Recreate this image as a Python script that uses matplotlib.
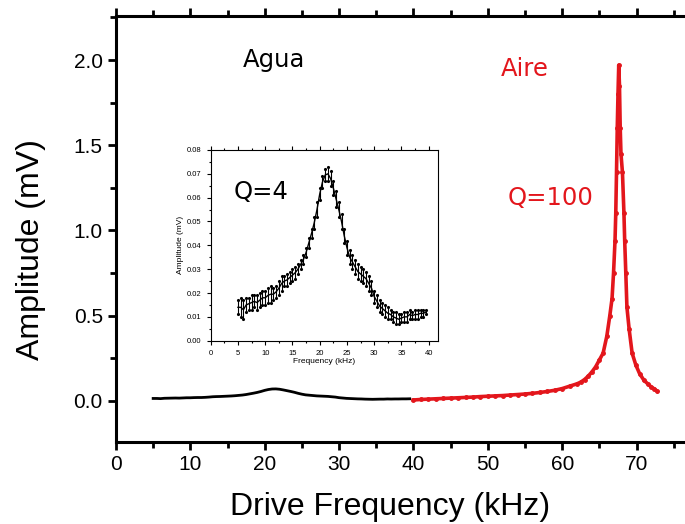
import matplotlib
matplotlib.use("Agg")
import matplotlib.pyplot as plt
import matplotlib.ticker as mticker
import numpy as np

# --- data ---
# water (Agua), low and high edge of the noisy band, kHz / mV
agua_freq = [5.0, 5.5, 6.0, 6.5, 7.0, 7.5, 8.0, 8.5, 9.0, 9.5,
             10.0, 10.5, 11.0, 11.5, 12.0, 12.5, 13.0, 13.5, 14.0, 14.5,
             15.0, 15.5, 16.0, 16.5, 17.0, 17.5, 18.0, 18.5, 19.0, 19.5,
             20.0, 20.5, 21.0, 21.5, 22.0, 22.5, 23.0, 23.5, 24.0, 24.5,
             25.0, 25.5, 26.0, 26.5, 27.0, 27.5, 28.0, 28.5, 29.0, 29.5,
             30.0, 30.5, 31.0, 31.5, 32.0, 32.5, 33.0, 33.5, 34.0, 34.5,
             35.0, 35.5, 36.0, 36.5, 37.0, 37.5, 38.0, 38.5, 39.0, 39.5]
agua_lo = [0.011, 0.010, 0.009, 0.012, 0.013, 0.013, 0.014, 0.013, 0.014, 0.015,
           0.015, 0.016, 0.016, 0.017, 0.018, 0.019, 0.021, 0.023, 0.023, 0.024,
           0.025, 0.026, 0.028, 0.030, 0.032, 0.035, 0.039, 0.043, 0.047, 0.052,
           0.059, 0.064, 0.067, 0.067, 0.065, 0.061, 0.056, 0.052, 0.047, 0.041,
           0.036, 0.032, 0.030, 0.028, 0.026, 0.025, 0.024, 0.023, 0.021, 0.019,
           0.016, 0.014, 0.012, 0.011, 0.010, 0.009, 0.009, 0.008, 0.007, 0.007,
           0.008, 0.008, 0.008, 0.009, 0.009, 0.009, 0.009, 0.010, 0.010, 0.011]
agua_hi = [0.017, 0.018, 0.017, 0.018, 0.018, 0.019, 0.019, 0.019, 0.020, 0.021,
           0.021, 0.022, 0.023, 0.022, 0.023, 0.025, 0.027, 0.027, 0.028, 0.029,
           0.030, 0.031, 0.032, 0.034, 0.036, 0.039, 0.043, 0.047, 0.052, 0.058,
           0.064, 0.069, 0.072, 0.073, 0.071, 0.067, 0.063, 0.058, 0.053, 0.047,
           0.042, 0.038, 0.036, 0.034, 0.032, 0.031, 0.030, 0.029, 0.027, 0.025,
           0.021, 0.019, 0.017, 0.016, 0.015, 0.014, 0.013, 0.012, 0.012, 0.011,
           0.011, 0.012, 0.012, 0.013, 0.012, 0.013, 0.013, 0.013, 0.013, 0.013]

# air (Aire), kHz / mV
aire_freq = [40.0, 41.0, 42.0, 43.0, 44.0, 45.0, 46.0, 47.0, 48.0, 49.0,
             50.0, 51.0, 52.0, 53.0, 54.0, 55.0, 56.0, 57.0, 58.0, 59.0,
             60.0, 61.0, 62.0, 62.5, 63.0, 63.5, 64.0, 64.5, 65.0, 65.5,
             66.0, 66.4, 66.7, 66.9, 67.1, 67.2, 67.3, 67.4, 67.5, 67.6,
             67.7, 67.8, 67.9, 68.1, 68.3, 68.4, 68.55, 68.7, 69.0, 69.4,
             69.9, 70.4, 71.0, 71.5, 72.0, 72.4, 72.8]
aire_amp = [0.005, 0.008, 0.010, 0.012, 0.014, 0.016, 0.018, 0.020, 0.022, 0.025,
            0.027, 0.029, 0.031, 0.034, 0.037, 0.040, 0.044, 0.049, 0.055, 0.062,
            0.072, 0.086, 0.100, 0.110, 0.125, 0.145, 0.170, 0.200, 0.240, 0.280,
            0.380, 0.500, 0.600, 0.750, 0.940, 1.100, 1.340, 1.600, 1.800, 1.970,
            1.850, 1.600, 1.450, 1.340, 1.100, 0.940, 0.750, 0.550, 0.420, 0.280,
            0.210, 0.160, 0.120, 0.100, 0.080, 0.070, 0.055]

x_ticks = [0, 10, 20, 30, 40, 50, 60, 70]

RED = "#e3161c"

agua_lo = np.array(agua_lo)
agua_hi = np.array(agua_hi)
agua_mid = (agua_lo + agua_hi) / 2

plt.rcParams["font.family"] = ["Liberation Sans", "DejaVu Sans"]

fig = plt.figure(figsize=(6.85, 5.24), dpi=100)
ax = fig.add_axes([0.1693, 0.157, 0.8686, 0.813])

ax.plot(agua_freq, agua_mid, color="black", lw=2.0)
ax.plot(aire_freq, aire_amp, color=RED, lw=2.6, marker="o", ms=2.5, mec=RED)

ax.set_xlim(0, 80)
ax.set_ylim(-0.24, 2.26)
ax.xaxis.set_major_locator(mticker.FixedLocator(x_ticks))
ax.xaxis.set_minor_locator(mticker.MultipleLocator(5))
ax.yaxis.set_major_locator(mticker.MultipleLocator(0.5))
ax.yaxis.set_minor_locator(mticker.MultipleLocator(0.25))
ax.yaxis.set_major_formatter(mticker.FormatStrFormatter("%.1f"))
ax.tick_params(which="both", direction="out", top=True, right=False,
               labelsize=15, width=2, colors="black")
ax.tick_params(which="major", length=6)
ax.tick_params(which="minor", length=4)
for side in ("left", "bottom", "top"):
    ax.spines[side].set_linewidth(2.2)
ax.spines["right"].set_visible(False)
ax.set_xlabel("Drive Frequency (kHz)", fontsize=23)
ax.set_ylabel("Amplitude (mV)", fontsize=23)
ax.xaxis.set_label_coords(0.46, -0.118)
ax.yaxis.set_label_coords(-0.118, 0.45)

ax.text(21.2, 2.0, "Agua", family="DejaVu Sans", fontsize=17.5, ha="center", va="center")
ax.text(55.0, 1.95, "Aire", family="DejaVu Sans", fontsize=17.5, color=RED,
        ha="center", va="center")
ax.text(58.5, 1.19, "Q=100", family="DejaVu Sans", fontsize=17.5, color=RED,
        ha="center", va="center")

# inset
ins = fig.add_axes([0.3076, 0.3498, 0.3318, 0.364])
ins.vlines(agua_freq, agua_lo, agua_hi, color="black", lw=0.8)
ins.plot(agua_freq, agua_lo, ".", color="black", ms=2.5)
ins.plot(agua_freq, agua_hi, ".", color="black", ms=2.5)
ins.plot(agua_freq, agua_mid, color="black", lw=1.0)
ins.set_xlim(0, 41.7)
ins.set_ylim(0, 0.08)
ins.xaxis.set_major_locator(mticker.MultipleLocator(5))
ins.xaxis.set_minor_locator(mticker.MultipleLocator(2.5))
ins.yaxis.set_major_locator(mticker.MultipleLocator(0.01))
ins.yaxis.set_minor_locator(mticker.MultipleLocator(0.005))
ins.yaxis.set_major_formatter(mticker.FormatStrFormatter("%.2f"))
ins.tick_params(which="both", direction="out", top=True, labelsize=5.5, width=0.8)
ins.tick_params(which="major", length=3)
ins.tick_params(which="minor", length=1.5)
for s in ins.spines.values():
    s.set_linewidth(0.8)
ins.set_xlabel("Frequency (kHz)", fontsize=6, labelpad=1)
ins.set_ylabel("Amplitude (mV)", fontsize=6, labelpad=2)
ins.text(9.2, 0.0624, "Q=4", family="DejaVu Sans", fontsize=17.5, ha="center", va="center")

fig.savefig("out.png", dpi=100)
